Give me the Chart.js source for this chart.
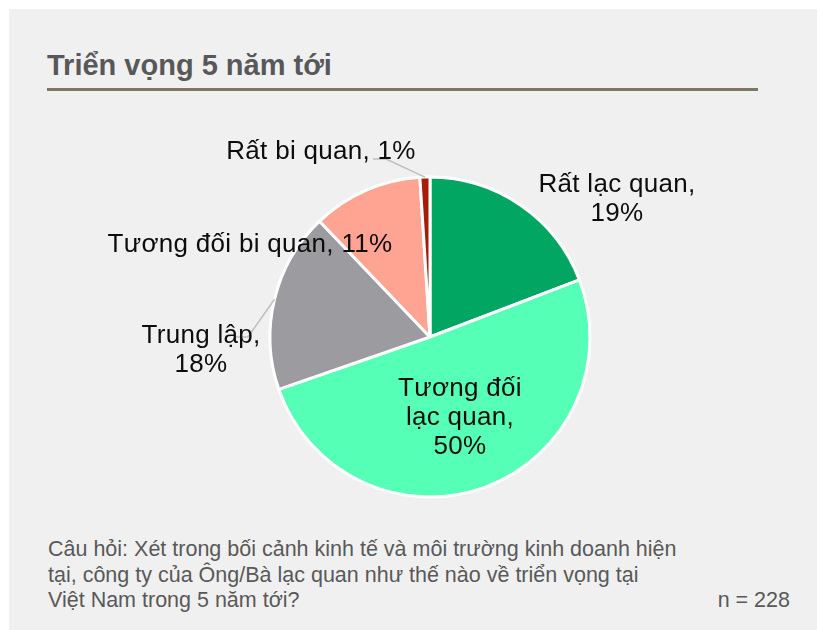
<!DOCTYPE html>
<html>
<head>
<meta charset="utf-8">
<script src="https://cdn.jsdelivr.net/npm/chart.js@4.4.1/dist/chart.umd.min.js"></script>
<style>
  html, body { margin:0; padding:0; background:#ffffff; width:817px; height:630px; overflow:hidden; }
  #panel { position:absolute; left:9px; top:9px; right:0; bottom:0; background:#f0f0f0; }
  #title { position:absolute; left:47px; top:47px; font-family:"Liberation Sans",Arial,sans-serif; font-weight:bold; font-size:29px; line-height:36px; color:#58585a; white-space:nowrap; }
  #rule { position:absolute; left:47px; top:88px; width:711px; height:3px; background:#7f7567; }
  #footer { position:absolute; left:48px; top:537px; font-family:"Liberation Sans",Arial,sans-serif; font-size:21.5px; line-height:25.5px; color:#595959; white-space:nowrap; }
  #nval { position:absolute; right:27px; top:588px; font-family:"Liberation Sans",Arial,sans-serif; font-size:21.5px; line-height:25.5px; color:#595959; white-space:nowrap; }
  #c { position:absolute; left:0; top:0; }
</style>
</head>
<body>
<div id="panel"></div>
<div id="title">Triển vọng 5 năm tới</div>
<div id="rule"></div>
<div id="footer">Câu hỏi: Xét trong bối cảnh kinh tế và môi trường kinh doanh hiện<br>tại, công ty của Ông/Bà lạc quan như thế nào về triển vọng tại<br>Việt Nam trong 5 năm tới?</div>
<div id="nval">n = 228</div>
<canvas id="c" width="817" height="630"></canvas>
<script>
// ---- data ----
const categories = ["Rất lạc quan", "Tương đối lạc quan", "Trung lập", "Tương đối bi quan", "Rất bi quan"];
const shares = [19, 50, 18, 11, 1];
const sliceColors = ["#00a661", "#55ffb5", "#9b9ba0", "#ffa393", "#a51c0a"];
// label text lines per slice
const labelLines = [
  ["Rất lạc quan,", "19%"],
  ["Tương đối", "lạc quan,", "50%"],
  ["Trung lập,", "18%"],
  ["Tương đối bi quan, 11%"],
  ["Rất bi quan, 1%"]
];
// label block centre offsets from the pie centre (styling/placement)
const labelOffsets = [[187, -138], [30, 81], [-229, 13], [-180, -92], [-109, -185]];
// leader lines: [slice index, start offset from label centre, knee offset from label centre]
const leaders = [[4, [52, 7], [65, 7]], [2, [34, -13], [47, -13]]];

const labelPlugin = {
  id: 'sliceLabels',
  afterDatasetsDraw(chart) {
    const ctx = chart.ctx;
    const meta = chart.getDatasetMeta(0);
    const a0 = meta.data[0];
    const cx = a0.x, cy = a0.y, r = a0.outerRadius;
    ctx.save();
    // leader lines
    ctx.strokeStyle = '#bfbfbf';
    ctx.lineWidth = 1.5;
    leaders.forEach(([i, s, k]) => {
      const arc = meta.data[i];
      const mid = (arc.startAngle + arc.endAngle) / 2;
      const lx = cx + labelOffsets[i][0], ly = cy + labelOffsets[i][1];
      ctx.beginPath();
      ctx.moveTo(lx + s[0], ly + s[1]);
      ctx.lineTo(lx + k[0], ly + k[1]);
      ctx.lineTo(cx + r * Math.cos(mid), cy + r * Math.sin(mid));
      ctx.stroke();
    });
    // labels
    ctx.fillStyle = '#0d0d0d';
    ctx.font = '26px "Liberation Sans", Arial, sans-serif';
    ctx.textAlign = 'center';
    ctx.textBaseline = 'middle';
    try { ctx.letterSpacing = '0.3px'; } catch (e) {}
    const lh = 29;
    labelLines.forEach((lines, i) => {
      const x = cx + labelOffsets[i][0];
      const y0 = cy + labelOffsets[i][1] - (lines.length - 1) * lh / 2;
      lines.forEach((t, j) => ctx.fillText(t, x, y0 + j * lh));
    });
    ctx.restore();
  }
};

new Chart(document.getElementById('c'), {
  type: 'pie',
  data: {
    labels: categories,
    datasets: [{
      data: shares,
      backgroundColor: sliceColors,
      borderColor: '#ffffff',
      borderWidth: 3
    }]
  },
  options: {
    responsive: false,
    animation: false,
    layout: { padding: { left: 268.5, right: 225.5, top: 175.5, bottom: 131.5 } },
    plugins: { legend: { display: false }, tooltip: { enabled: false } }
  },
  plugins: [labelPlugin]
});
</script>
</body>
</html>
